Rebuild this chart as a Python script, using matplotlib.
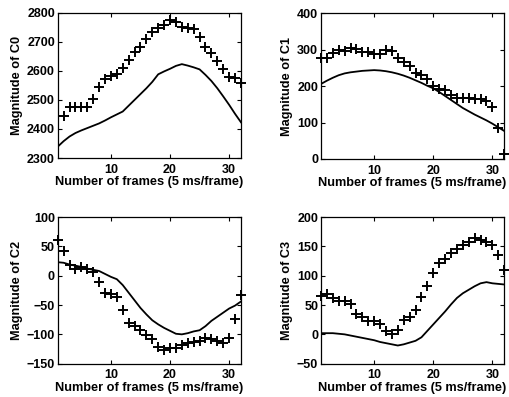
# -*- coding: utf-8 -*-
'''
Cepstral coefficients C0..C3 over frames: measured (+) vs. model (line).
'''

import numpy as np
import matplotlib
matplotlib.use('Agg')
import matplotlib.pyplot as plt

plt.rcParams['font.family'] = ['Liberation Sans', 'DejaVu Sans']

frames = np.arange(1, 33)

# C0 crosses start at frame 2
c0_pts = [2445, 2477, 2477, 2477, 2477, 2502, 2544, 2571, 2582, 2589,
          2609, 2637, 2666, 2683, 2708, 2735, 2746, 2758, 2775, 2769,
          2752, 2746, 2743, 2715, 2683, 2660, 2635, 2606, 2580, 2574,
          2557]
c0_line = [2339, 2358, 2374, 2386, 2395, 2403, 2411, 2419, 2429, 2440,
           2450, 2460, 2480, 2500, 2520, 2540, 2562, 2588, 2598, 2607,
           2617, 2623, 2618, 2612, 2605, 2586, 2565, 2540, 2512, 2483,
           2452, 2423]

c1_pts = [278, 278, 292, 299, 297, 304, 301, 293, 293, 287,
          287, 299, 297, 276, 265, 256, 237, 231, 219, 200,
          192, 189, 176, 167, 167, 167, 164, 164, 160, 144,
          84, 14]
c1_line = [206, 215, 223, 230, 235, 238, 240, 242, 243, 244,
           243, 241, 238, 234, 229, 223, 216, 209, 201, 194,
           184, 173, 162, 151, 140, 131, 122, 114, 106, 97,
           87, 77]

c2_pts = [60, 42, 19, 12, 15, 11, 6, -11, -29, -32,
          -36, -59, -80, -86, -93, -101, -108, -122, -127, -123,
          -123, -118, -114, -113, -111, -107, -108, -111, -115, -107,
          -73, -33]
c2_line = [23, 22, 19, 17, 15, 12, 10, 8, 3, -2,
           -6, -16, -29, -42, -55, -66, -76, -83, -89, -94,
           -99, -100, -98, -95, -93, -86, -77, -70, -63, -56,
           -51, -44]

c3_pts = [66, 69, 62, 57, 57, 52, 34, 29, 23, 23,
          17, 5, 1, 7, 24, 30, 42, 63, 83, 105,
          122, 129, 138, 145, 152, 157, 164, 161, 158, 152,
          135, 110]
c3_line = [2, 2, 2, 1, 0, -2, -4, -6, -8, -10,
           -13, -15, -17, -19, -17, -14, -11, -5, 6, 17,
           28, 39, 51, 62, 70, 76, 82, 87, 89, 87,
           86, 85]

panels = [
    ('C0', frames[1:], c0_pts, c0_line, (2300, 2800), [2300, 2400, 2500, 2600, 2700, 2800]),
    ('C1', frames, c1_pts, c1_line, (0, 400), [0, 100, 200, 300, 400]),
    ('C2', frames, c2_pts, c2_line, (-150, 100), [-150, -100, -50, 0, 50, 100]),
    ('C3', frames, c3_pts, c3_line, (-50, 200), [-50, 0, 50, 100, 150, 200]),
]

ax_rects = [
    [0.1134, 0.602, 0.360, 0.366],
    [0.6306, 0.5995, 0.360, 0.367],
    [0.1134, 0.0839, 0.360, 0.3695],
    [0.6306, 0.0839, 0.360, 0.3695],
]


def main():
    fig = plt.figure(figsize=(5.09, 3.97), dpi=100)

    for (name, pts_x, pts, line, ylim, yticks), rect in zip(panels, ax_rects):
        ax = fig.add_axes(rect)

        ax.plot(frames, line, color='black', lw=1.3)
        ax.plot(pts_x, pts, linestyle='none', marker='+', ms=6.5,
                mew=1.4, color='black', clip_on=False)

        ax.set_xlim(1, 32)
        ax.set_ylim(*ylim)
        ax.set_xticks([10, 20, 30])
        ax.set_yticks(yticks)

        ax.tick_params(direction='in', top=True, right=True,
                       length=3, width=0.8, labelsize=9)
        ax.tick_params(axis='x', pad=4)
        ax.tick_params(axis='y', pad=2)
        for lab in ax.get_xticklabels() + ax.get_yticklabels():
            lab.set_fontweight('bold')
        for sp in ax.spines.values():
            sp.set_linewidth(0.9)

        ax.set_xlabel('Number of frames (5 ms/frame)', fontsize=9.2,
                      fontweight='bold', labelpad=0.5)
        ax.set_ylabel(f'Magnitude of {name}', fontsize=9.2,
                      fontweight='bold', labelpad=3)

    fig.savefig('out.png', dpi=100)
    plt.close(fig)


if __name__ == '__main__':
    main()
